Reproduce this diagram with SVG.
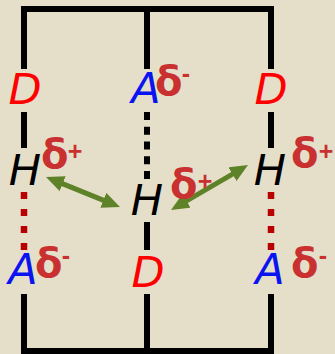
<svg xmlns="http://www.w3.org/2000/svg" width="335" height="354" viewBox="0 0 335 354">
  <style>
    .bond { fill: none; stroke: #000; stroke-width: 6; stroke-linejoin: miter; }
    .hbond-black { fill: none; stroke: #000; stroke-width: 6; stroke-dasharray: 8 6.75; }
    .hbond-red { fill: none; stroke: #b80000; stroke-width: 6.5; stroke-dasharray: 7 10; }
    .atom { font-family: "DejaVu Sans", "Liberation Sans", sans-serif; font-style: oblique; font-size: 43px; text-anchor: middle; }
    .donor { fill: #ff0000; }
    .acceptor { fill: #0a14f0; }
    .hydrogen { fill: #000; }
    .delta { font-family: "DejaVu Sans", "Liberation Sans", sans-serif; font-weight: bold; font-size: 40px; fill: #c93030; }
    .sign { font-family: "Liberation Sans", "DejaVu Sans", sans-serif; font-weight: bold; font-size: 25px; fill: #c93030; text-anchor: middle; }
    .arrow { fill: none; stroke: #5e8227; stroke-width: 5; marker-start: url(#head); marker-end: url(#head); }
  </style>
  <defs>
    <marker id="head" viewBox="0 0 18 16" refX="7" refY="8" markerWidth="18" markerHeight="16" markerUnits="userSpaceOnUse" orient="auto-start-reverse">
      <path d="M0,0 L18,8 L0,16 z" fill="#5e8227"/>
    </marker>
  </defs>

  <rect width="335" height="354" fill="#e5dfca"/>

  <!-- backbone bonds and hydrogen bonds -->
  <g id="connectors">
    <path class="bond" d="M24,69 V9 H271 V69"/>
    <path class="bond" d="M147,9 V69"/>
    <path class="bond" d="M24,112 V148"/>
    <path class="bond" d="M271,112 V148"/>
    <path class="bond" d="M147,222 V250"/>
    <path class="bond" d="M24,294 V351 H271 V294"/>
    <path class="bond" d="M147,294 V351"/>
    <path class="hbond-black" d="M147,112 V179"/>
    <path class="hbond-red" d="M24,192 V250"/>
    <path class="hbond-red" d="M271,192 V250"/>
    <path class="arrow" d="M56.2,181.1 L109.8,202.9"/>
    <path class="arrow" d="M180.5,204.4 L238.5,170.6"/>
  </g>

  <!-- left strand -->
  <g id="left-donor">
    <text class="atom donor" x="25" y="104">D</text>
  </g>
  <g id="left-hydrogen">
    <text class="atom hydrogen" x="25" y="185">H</text>
    <text class="delta" x="41" y="168">δ</text>
    <text class="sign" x="75" y="160">+</text>
  </g>
  <g id="left-acceptor">
    <text class="atom acceptor" x="23" y="284">A</text>
    <text class="delta" x="35" y="277">δ</text>
    <text class="sign" x="66" y="264">-</text>
  </g>

  <!-- middle strand -->
  <g id="middle-acceptor">
    <text class="atom acceptor" x="146" y="103">A</text>
    <text class="delta" x="155" y="95">δ</text>
    <text class="sign" x="186" y="82">-</text>
  </g>
  <g id="middle-hydrogen">
    <text class="atom hydrogen" x="147" y="215">H</text>
    <text class="delta" x="170" y="198">δ</text>
    <text class="sign" x="205" y="190">+</text>
  </g>
  <g id="middle-donor">
    <text class="atom donor" x="148" y="287">D</text>
  </g>

  <!-- right strand -->
  <g id="right-donor">
    <text class="atom donor" x="271" y="104">D</text>
  </g>
  <g id="right-hydrogen">
    <text class="atom hydrogen" x="270" y="185">H</text>
    <text class="delta" x="291" y="167">δ</text>
    <text class="sign" x="326" y="160">+</text>
  </g>
  <g id="right-acceptor">
    <text class="atom acceptor" x="270" y="284">A</text>
    <text class="delta" x="291" y="277">δ</text>
    <text class="sign" x="323" y="264">-</text>
  </g>
</svg>
